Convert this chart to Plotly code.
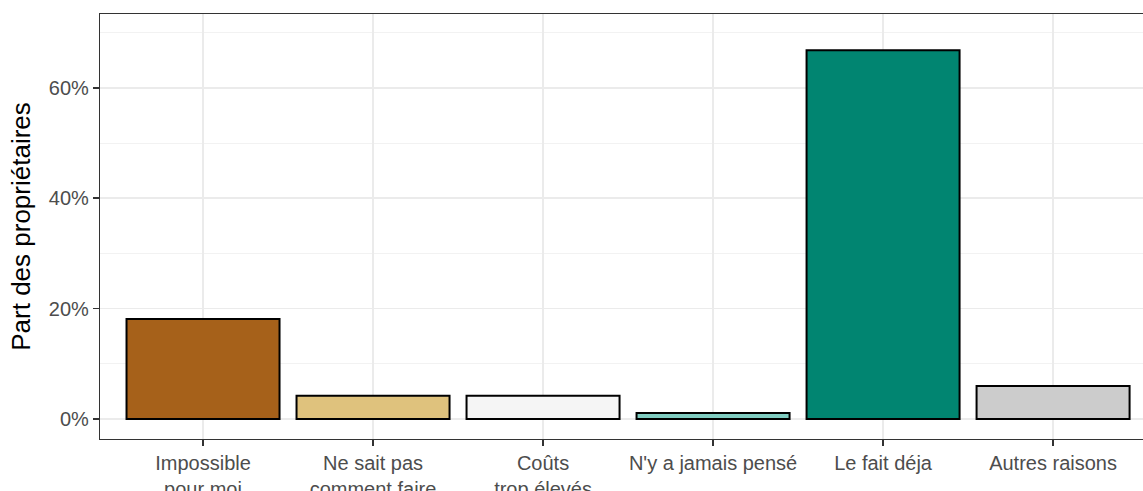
import plotly.graph_objects as go

categories = ["Impossible<br>pour moi", "Ne sait pas<br>comment faire", "Coûts<br>trop élevés",
              "N'y a jamais pensé", "Le fait déja", "Autres raisons"]
values = [18.1, 4.2, 4.2, 1.1, 66.8, 6.0]
colors = ["#A6611A", "#DFC27D", "#F5F5F5", "#80CDC1", "#018571", "#CCCCCC"]
y_ticks = [0, 20, 40, 60]
y_ticklabels = ["0%", "20%", "40%", "60%"]

xs = list(range(len(categories)))

fig = go.Figure()
fig.add_trace(go.Bar(
    x=xs, y=values, width=0.9,
    marker=dict(color=colors, line=dict(color="black", width=2)),
    hoverinfo="skip",
))

# the plot panel runs slightly past the right edge of the window (as in the reference crop)
fig.update_layout(
    width=1151, height=491,
    margin=dict(l=100, r=0, t=14, b=52, autoexpand=False),
    plot_bgcolor="white", paper_bgcolor="white",
    font=dict(family="Liberation Sans, Arial, sans-serif", color="#4D4D4D", size=20),
    showlegend=False,
    bargap=0,
)

fig.update_xaxes(
    range=[-0.606, 5.576],
    tickvals=xs, ticktext=categories,
    showgrid=True, gridcolor="#EBEBEB", gridwidth=1.5,
    ticks="outside", ticklen=6, tickcolor="#333333", tickwidth=1.5,
    showline=True, linecolor="#333333", linewidth=1.2, mirror=True,
    automargin=False, zeroline=False,
    tickfont=dict(size=20, color="#4D4D4D"),
)

fig.update_yaxes(
    range=[-3.62, 73.37],
    tickvals=y_ticks, ticktext=y_ticklabels,
    showgrid=True, gridcolor="#EBEBEB", gridwidth=1.5,
    minor=dict(tickvals=[10, 30, 50, 70], showgrid=True, gridcolor="#F2F2F2", gridwidth=1, ticks=""),
    ticks="outside", ticklen=6, tickcolor="#333333", tickwidth=1.5,
    showline=True, linecolor="#333333", linewidth=1.2,
    zeroline=False, automargin=False,
    tickfont=dict(size=20, color="#4D4D4D"),
    title=dict(text="Part des propriétaires", font=dict(size=26, color="black"), standoff=10),
)

fig.write_html(
    "out.html",
    config={"displayModeBar": False, "staticPlot": True},
    post_script="document.body.style.margin='0';document.body.style.overflow='hidden';"
                "document.documentElement.style.overflow='hidden';",
)
